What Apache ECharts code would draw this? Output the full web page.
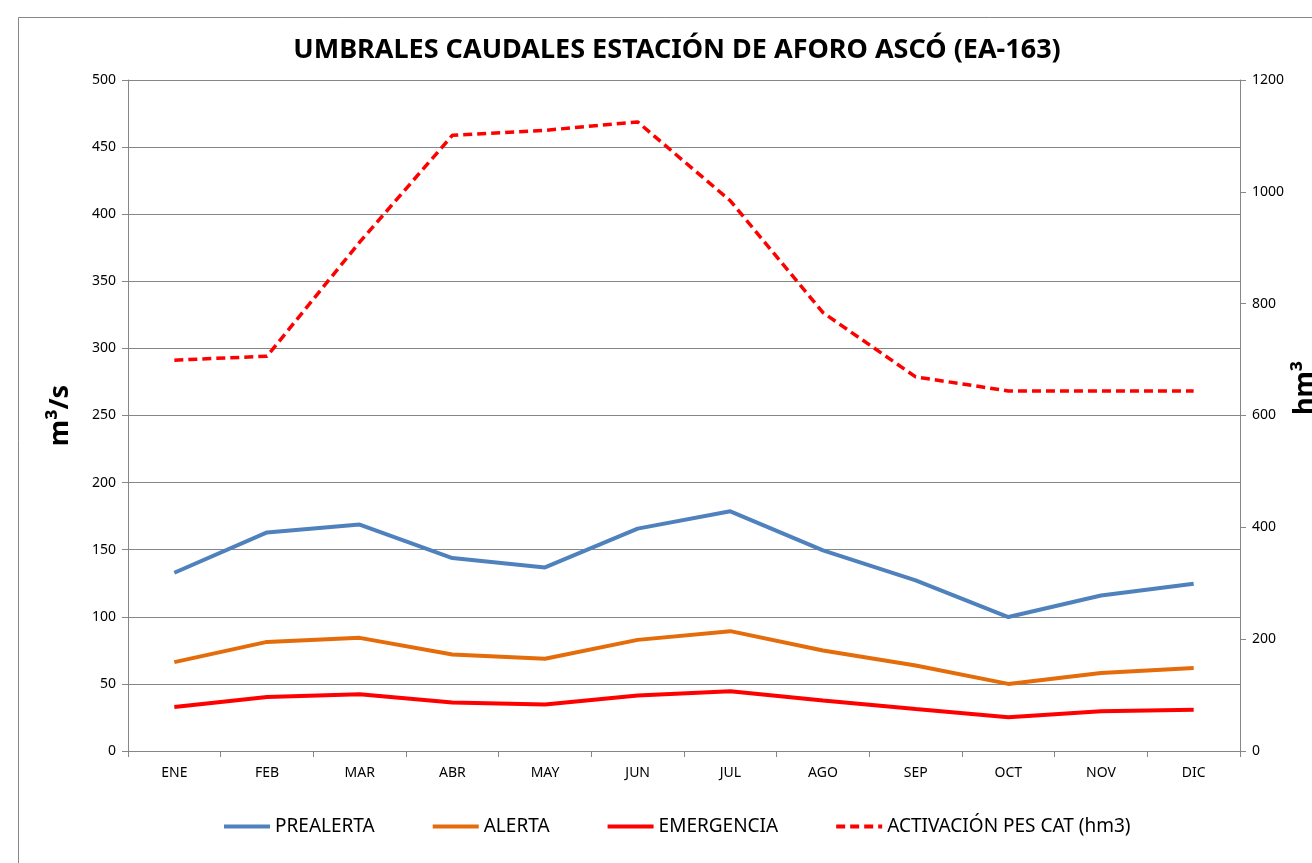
<!DOCTYPE html>
<html>
<head>
<meta charset="utf-8">
<script src="https://cdn.jsdelivr.net/npm/echarts@6/dist/echarts.min.js"></script>
<style>
  html, body { margin: 0; padding: 0; background: #fff; }
  #chart { width: 1312px; height: 863px; }
</style>
</head>
<body>
<div id="chart"></div>
<script>
// meses
const months = ['ENE', 'FEB', 'MAR', 'ABR', 'MAY', 'JUN', 'JUL', 'AGO', 'SEP', 'OCT', 'NOV', 'DIC'];
// umbrales de caudal (m3/s)
const prealerta = [132.8, 162.9, 168.7, 143.8, 136.8, 165.7, 178.6, 149.5, 127.1, 99.8, 115.9, 124.6];
const alerta = [66.2, 81.3, 84.3, 71.9, 68.7, 82.8, 89.3, 74.9, 63.7, 50.0, 58.2, 61.9];
const emergencia = [32.8, 40.3, 42.3, 36.1, 34.6, 41.3, 44.5, 37.6, 31.3, 25.1, 29.6, 30.8];
// activacion PES CAT (hm3), eje derecho
const activacion = [699, 706, 910, 1101, 1110, 1125, 984, 784, 669, 644, 644, 644];

const axisGray = '#868686';
const font = 'Noto Sans';

const chart = echarts.init(document.getElementById('chart'));
const option = {
    backgroundColor: '#fff',
    animation: false,
    textStyle: { fontFamily: font },
    title: {
        text: 'UMBRALES CAUDALES ESTACIÓN DE AFORO ASCÓ (EA-163)',
        left: 672,
        top: 32,
        textAlign: 'center',
        textStyle: { fontFamily: font, fontSize: 27, fontWeight: 'bold', color: '#000' }
    },
    graphic: [{
        type: 'rect',
        shape: { x: 18.5, y: 17.5, width: 1320, height: 900 },
        style: { fill: null, stroke: axisGray, lineWidth: 1 },
        silent: true
    }, {
        // nombre del eje derecho (cortado por el borde, como en el original)
        type: 'text',
        x: 1292,
        y: 388,
        rotation: Math.PI / 2,
        style: {
            text: 'hm³',
            fontFamily: font,
            fontSize: 27,
            fontWeight: 'bold',
            fill: '#000',
            align: 'center',
            verticalAlign: 'top'
        },
        silent: true
    }],
    legend: {
        bottom: 22,
        left: 217,
        itemWidth: 46,
        itemHeight: 10,
        itemGap: 56,
        itemStyle: { opacity: 0 },
        lineStyle: { width: 4 },
        textStyle: { fontSize: 19, color: '#000', fontFamily: font },
        data: ['PREALERTA', 'ALERTA', 'EMERGENCIA', 'ACTIVACIÓN PES CAT (hm3)']
    },
    grid: { left: 128, right: 72, top: 80, bottom: 112, outerBoundsMode: 'none' },
    xAxis: {
        type: 'category',
        data: months,
        boundaryGap: true,
        axisLine: { lineStyle: { color: axisGray, width: 1 } },
        axisTick: { show: true, length: 6, lineStyle: { color: axisGray } },
        axisLabel: { color: '#000', fontSize: 14, margin: 15 }
    },
    yAxis: [{
        type: 'value',
        min: 0, max: 500, interval: 50,
        name: 'm³/s',
        nameLocation: 'middle',
        nameGap: 54,
        nameTextStyle: { fontSize: 27, fontWeight: 'bold', color: '#000' },
        axisLine: { show: true, lineStyle: { color: axisGray } },
        axisTick: { show: true, length: 6, lineStyle: { color: axisGray } },
        axisLabel: { color: '#000', fontSize: 14, margin: 12 },
        splitLine: { lineStyle: { color: axisGray, width: 1 } }
    }, {
        type: 'value',
        min: 0, max: 1200, interval: 200,
        axisLine: { show: true, lineStyle: { color: axisGray } },
        axisTick: { show: true, length: 6, lineStyle: { color: axisGray } },
        axisLabel: { color: '#000', fontSize: 14, margin: 12, formatter: v => String(v) },
        splitLine: { show: false }
    }],
    series: [{
        name: 'PREALERTA',
        type: 'line',
        data: prealerta,
        symbol: 'none',
        lineStyle: { color: '#4F81BD', width: 4 },
        itemStyle: { color: '#4F81BD' }
    }, {
        name: 'ALERTA',
        type: 'line',
        data: alerta,
        symbol: 'none',
        lineStyle: { color: '#E46C0A', width: 4 },
        itemStyle: { color: '#E46C0A' }
    }, {
        name: 'EMERGENCIA',
        type: 'line',
        data: emergencia,
        symbol: 'none',
        lineStyle: { color: '#FF0000', width: 4 },
        itemStyle: { color: '#FF0000' }
    }, {
        name: 'ACTIVACIÓN PES CAT (hm3)',
        type: 'line',
        yAxisIndex: 1,
        data: activacion,
        symbol: 'none',
        lineStyle: { color: '#FF0000', width: 3.5, type: [9, 5] },
        itemStyle: { color: '#FF0000' }
    }]
};
chart.setOption(option);
</script>
</body>
</html>
